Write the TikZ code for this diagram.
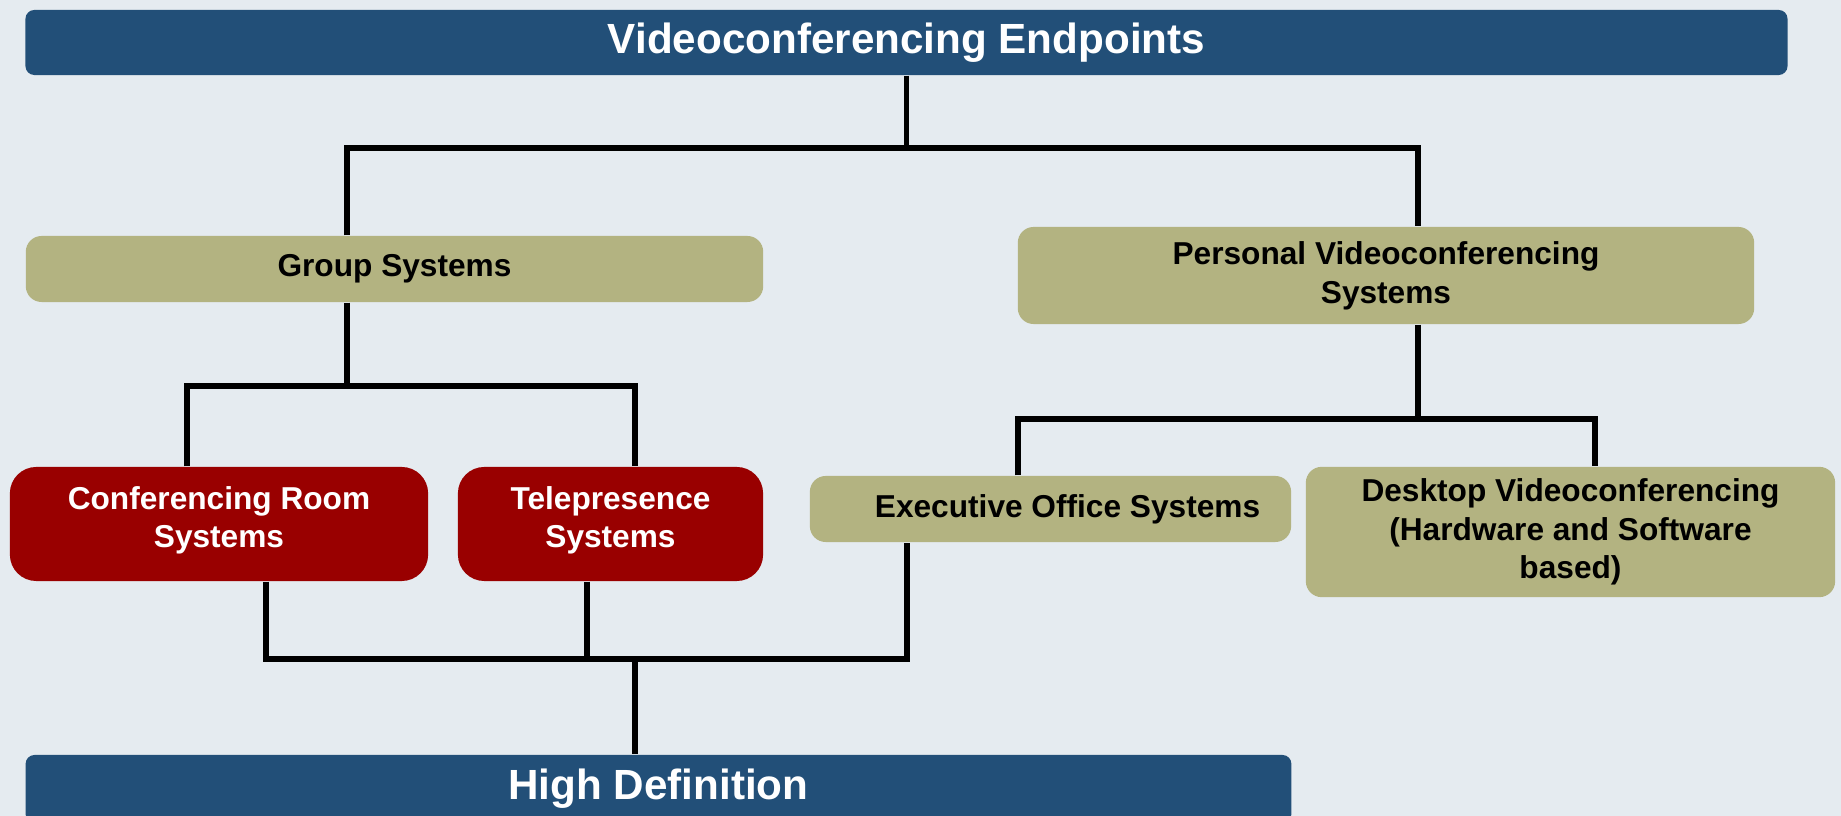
\documentclass[tikz,border=0pt]{standalone}
\usepackage{fontspec}
\setmainfont{Liberation Sans}
\definecolor{bgcol}{HTML}{E5EBF0}
\definecolor{barblue}{HTML}{224F78}
\definecolor{boxred}{HTML}{990000}
\definecolor{boxolive}{HTML}{B3B381}
\tikzset{
  bar/.style={fill=barblue, text=white, rounded corners=2.5pt,
    font=\fontsize{12}{14}\selectfont\bfseries},
  family/.style={fill=boxolive, text=black, rounded corners=4.5pt, align=center,
    font=\fontsize{9}{11}\selectfont\bfseries},
  roomsys/.style={fill=boxred, text=white, rounded corners=7.5pt, align=center,
    font=\fontsize{9}{11}\selectfont\bfseries},
  wire/.style={line width=1.6pt, line join=miter},
}

\begin{document}
\begin{tikzpicture}[x=0.01cm, y=-0.01cm]
    \fill[bgcol, use as bounding box] (0,0) rectangle (1841,816);
    \clip (0,0) rectangle (1841,816);

    \node[bar, minimum width=17.61cm, minimum height=0.65cm] (top) at (906.5,42.5) {Videoconferencing Endpoints};
    \node[family, minimum width=7.37cm, minimum height=0.66cm] (grp) at (394.5,269) {Group Systems};
    \node[family, minimum width=7.36cm, minimum height=0.97cm] (pers) at (1386,275.5) {Personal Videoconferencing\\Systems};
    \node[roomsys, minimum width=4.18cm, minimum height=1.14cm, text depth=4pt] (conf) at (219,524) {Conferencing Room\\Systems};
    \node[roomsys, minimum width=3.05cm, minimum height=1.14cm, text depth=4pt] (tele) at (610.5,524) {Telepresence\\Systems};
    \node[family, minimum width=4.81cm, minimum height=0.66cm] (exec) at (1050.5,509) {\hspace*{9.7pt}Executive Office Systems};
    \node[family, minimum width=5.29cm, minimum height=1.30cm] (desk) at (1570.5,532) {Desktop Videoconferencing\\(Hardware and Software\\based)};
    \node[bar, minimum width=12.65cm, minimum height=0.68cm] (hd) at (658.5,789) {High Definition};

    \coordinate (a1) at (347,148);
    \coordinate (a2) at (1418,148);
    \coordinate (b1) at (187,386);
    \coordinate (b2) at (635,386);
    \coordinate (c1) at (1018,419);
    \coordinate (c2) at (1595,419);
    \coordinate (d1) at (266,659);
    \coordinate (d2) at (907,659);
    \coordinate (d3) at (587,659);
    \coordinate (d4) at (635,659);

    \draw[wire] (top.south) -- (top.south |- a1);
    \draw[wire] (grp.north -| a1) -- (a1) -- (a2) -- (pers.north -| a2);
    \draw[wire] (grp.south -| a1) -- (a1 |- b1);
    \draw[wire] (conf.north -| b1) -- (b1) -- (b2) -- (tele.north -| b2);
    \draw[wire] (pers.south -| a2) -- (a2 |- c1);
    \draw[wire] (exec.north -| c1) -- (c1) -- (c2) -- (desk.north -| c2);
    \draw[wire] (conf.south -| d1) -- (d1) -- (d2) -- (exec.south -| d2);
    \draw[wire] (tele.south -| d3) -- (d3);
    \draw[wire] (d4) -- (hd.north -| d4);
\end{tikzpicture}
\end{document}
